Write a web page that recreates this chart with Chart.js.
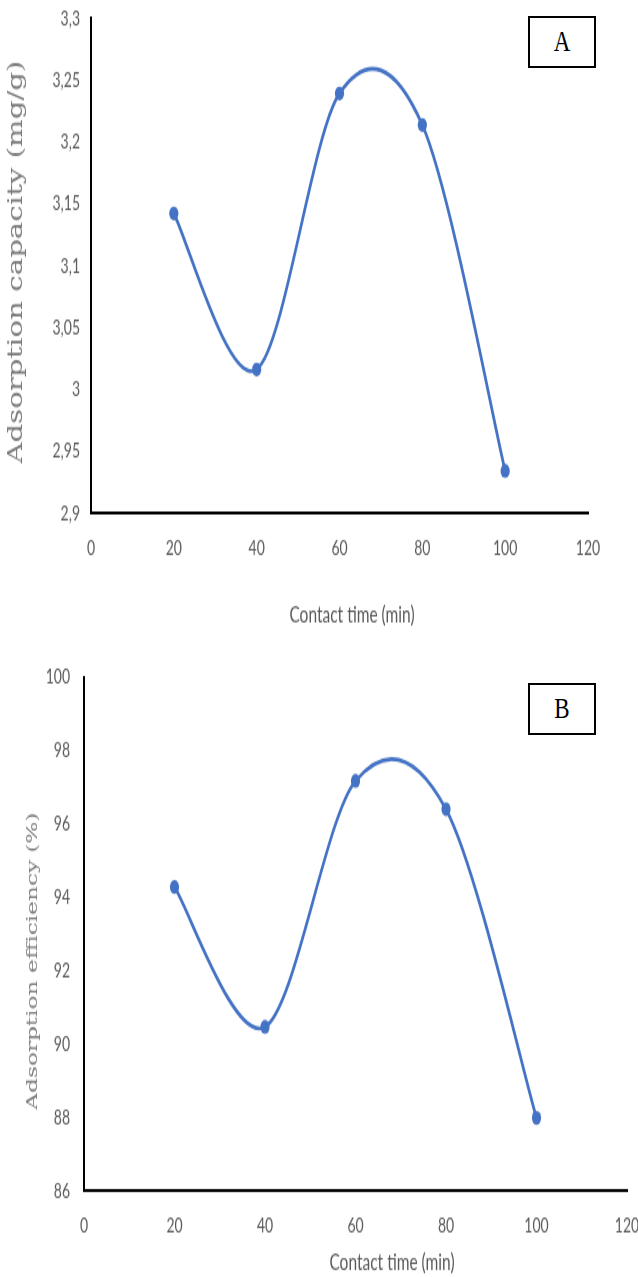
<!DOCTYPE html>
<html>
<head>
<meta charset="utf-8">
<script src="https://cdn.jsdelivr.net/npm/chart.js@4.4.1/dist/chart.umd.min.js"></script>
<style>
  html, body { margin:0; padding:0; background:#fff; }
  body { width:638px; height:1277px; position:relative; overflow:hidden; }
  .wrap { position:absolute; left:0; width:638px; transform-origin:0 0; transform:scaleY(1.5); }
  .box { position:absolute; border:2px solid #000; box-sizing:border-box; width:68px; height:52px;
         display:flex; align-items:center; justify-content:center; background:#fff; }
  .box span { font-family:"Liberation Serif", serif; font-size:23px; color:#000; display:inline-block; transform:scaleY(1.3); }
</style>
</head>
<body>
<div class="wrap" style="top:0;height:426px;"><canvas id="cA" width="638" height="426"></canvas></div>
<div class="wrap" style="top:640px;height:424px;"><canvas id="cB" width="638" height="424"></canvas></div>
<div class="box" style="left:528px;top:16px;"><span>A</span></div>
<div class="box" style="left:528px;top:683px;"><span>B</span></div>
<script>
// ---- data ----
const contactTime = [20, 40, 60, 80, 100];
const capacityA = [3.142, 3.016, 3.239, 3.2135, 2.934];
const efficiencyB = [94.28, 90.47, 97.17, 96.40, 87.99];
const xTicks = [0, 20, 40, 60, 80, 100, 120];
const yTicksA = [2.9, 2.95, 3, 3.05, 3.1, 3.15, 3.2, 3.25, 3.3];
const yLabelsA = ["2,9", "2,95", "3", "3,05", "3,1", "3,15", "3,2", "3,25", "3,3"];
const yTicksB = [86, 88, 90, 92, 94, 96, 98, 100];
const yLabelsB = ["86", "88", "90", "92", "94", "96", "98", "100"];
const xTitle = "Contact time (min)";
const yTitleA = "Adsorption capacity (mg/g)";
const yTitleB = "Adsorption efficiency (%)";

const LINE = '#4472C4';
const TICK = '#595959';

// Excel-style smoothing: uniform Catmull-Rom control points computed from the
// pixel positions that Chart.js assigned to the points.
const smoothPlugin = {
  id: 'excelSmooth',
  beforeDatasetDraw(chart, args) {
    const meta = args.meta;
    const line = meta.dataset;
    if (!line) return;
    line.updateControlPoints(chart.chartArea, 'x');
    const pts = meta.data;
    const n = pts.length;
    const k = 1 / 6;
    for (let i = 0; i < n; i++) {
      const p = pts[i];
      const prev = pts[Math.max(i - 1, 0)];
      const next = pts[Math.min(i + 1, n - 1)];
      const tx = (next.x - prev.x) * k, ty = (next.y - prev.y) * k;
      p.cp1x = p.x - tx; p.cp1y = p.y - ty;
      p.cp2x = p.x + tx; p.cp2y = p.y + ty;
    }
    line._pointsUpdated = true;
    line._path = undefined;
  }
};

const titlePlugin = {
  id: 'freeTitles',
  afterDraw(chart, args, opts) {
    const ctx = chart.ctx;
    (opts.items || []).forEach(it => {
      ctx.save();
      ctx.font = it.font;
      ctx.fillStyle = it.color;
      ctx.textAlign = 'center';
      ctx.textBaseline = 'middle';
      ctx.translate(it.x, it.y);
      if (it.rot) ctx.rotate(it.rot);
      ctx.fillText(it.text, 0, 0);
      ctx.restore();
    });
  }
};

function makeChart(id, values, yTicks, yLabels, cfg) {
  return new Chart(document.getElementById(id), {
    type: 'line',
    data: {
      datasets: [{
        data: contactTime.map((x, i) => ({ x: x, y: values[i] })),
        borderColor: LINE,
        backgroundColor: LINE,
        borderWidth: 2.7,
        pointRadius: 4.6,
        pointBorderWidth: 0,
        pointBackgroundColor: LINE,
        tension: 0.4,
        fill: false
      }]
    },
    options: {
      responsive: false,
      animation: false,
      devicePixelRatio: 1,
      layout: { padding: { left: 0, right: cfg.padRight, top: cfg.padTop, bottom: 0 } },
      plugins: {
        legend: { display: false },
        tooltip: { enabled: false },
        freeTitles: { items: cfg.titles }
      },
      scales: {
        x: {
          type: 'linear',
          min: xTicks[0], max: xTicks[xTicks.length - 1],
          afterBuildTicks: s => { s.ticks = xTicks.map(v => ({ value: v })); },
          afterFit: s => { s.height = cfg.xHeight; s.paddingLeft = 0; s.paddingRight = 0; },
          grid: { display: false, drawTicks: false },
          border: { display: true, color: '#000', width: 2 },
          ticks: { color: TICK, padding: cfg.xPad, font: { family: 'Lato', size: 14 }, maxRotation: 0, autoSkip: false,
                   callback: (v) => String(v) }
        },
        y: {
          type: 'linear',
          min: yTicks[0], max: yTicks[yTicks.length - 1],
          afterBuildTicks: s => { s.ticks = yTicks.map(v => ({ value: v })); },
          afterFit: s => { s.width = cfg.yWidth; s.paddingTop = 0; s.paddingBottom = 0; },
          grid: { display: false, drawTicks: false },
          border: { display: true, color: '#000', width: 2 },
          ticks: { color: TICK, padding: cfg.yPad, font: { family: 'Lato', size: 14 }, autoSkip: false,
                   callback: (v, i) => yLabels[i] }
        }
      }
    },
    plugins: [smoothPlugin, titlePlugin]
  });
}

makeChart('cA', capacityA, yTicksA, yLabelsA, {
  padRight: 50, padTop: 12, xHeight: 84, yWidth: 91, xPad: 15, yPad: 11,
  titles: [
    { text: xTitle, x: 352, y: 410, font: '15.5px Lato', color: TICK },
    { text: yTitleA, x: 17, y: 174.7, rot: -Math.PI / 2, font: '19.5px "DejaVu Serif"', color: '#7a7a7a' }
  ]
});
makeChart('cB', efficiencyB, yTicksB, yLabelsB, {
  padRight: 11, padTop: 24.67, xHeight: 56.67, yWidth: 84, xPad: 14.3, yPad: 14,
  titles: [
    { text: xTitle, x: 392, y: 414.7, font: '15.5px Lato', color: TICK },
    { text: yTitleB, x: 33, y: 214, rot: -Math.PI / 2, font: '15.5px "DejaVu Serif"', color: '#7a7a7a' }
  ]
});
</script>
</body>
</html>
